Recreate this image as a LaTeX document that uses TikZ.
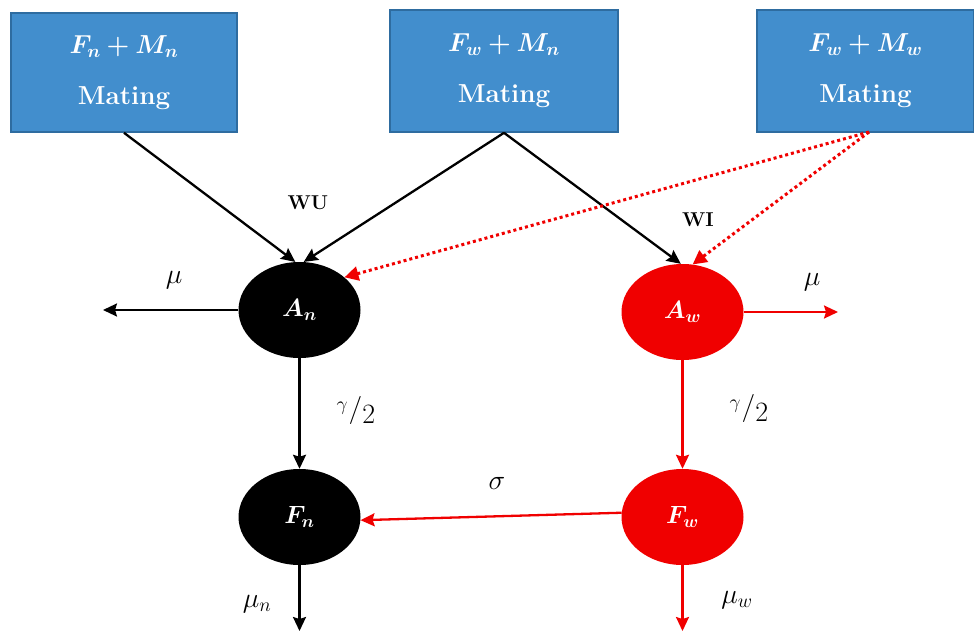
\RequirePackage{fix-cm}
\documentclass[tikz,border=0pt]{standalone}
\usepackage{bm}
\usetikzlibrary{arrows.meta,shapes.geometric}
\definecolor{boxblue}{RGB}{66,142,205}
\definecolor{boxedge}{RGB}{46,108,160}
\definecolor{flowred}{RGB}{240,0,0}
\newcommand{\halfgamma}{\raisebox{7pt}{$\scriptstyle\gamma$}\hspace{1pt}/\raisebox{-6pt}{$2$}}
\begin{document}
\begin{tikzpicture}[x=1pt,y=-1pt,
  matebox/.style={draw=boxedge, line width=1.6pt, fill=boxblue, text=white,
    align=center, inner sep=0pt, font=\fontsize{26}{51}\selectfont\bfseries},
  stage/.style={ellipse, minimum width=122pt, minimum height=96pt, inner sep=0pt,
    text=white, font=\fontsize{25}{28}\selectfont},
  tipk/.style={-{Stealth[length=14pt,width=13pt,inset=2pt]}},
  flow/.style={line width=2.3pt, tipk},
  redflow/.style={line width=2.3pt, draw=flowred, tipk},
  dotflow/.style={line width=3pt, draw=flowred, dash pattern=on 3pt off 3pt,
    -{Triangle[length=14pt,width=14pt]}},
  rate/.style={font=\fontsize{28}{32}\selectfont},
  tag/.style={font=\fontsize{20}{24}\selectfont\bfseries},
]
\useasboundingbox (0,0) rectangle (974,631);

% mating boxes
\node[matebox, minimum width=226pt, minimum height=119pt] (b1) at (124,72.5)
  {$\bm{F_n + M_n}$\\Mating};
\node[matebox, minimum width=228pt, minimum height=122pt] (b2) at (504,71)
  {$\bm{F_w + M_n}$\\Mating};
\node[matebox, minimum width=217pt, minimum height=122pt] (b3) at (865.5,71)
  {$\bm{F_w + M_w}$\\Mating};

% compartments
\node[stage, fill=black] (An) at (299.5,310) {$\bm{A_n}$};
\node[stage, fill=flowred] (Aw) at (682.5,312) {$\bm{A_w}$};
\node[stage, fill=black] (Fn) at (299.5,517) {$\bm{F_n}$};
\node[stage, fill=flowred] (Fw) at (682.5,517) {$\bm{F_w}$};

% free ends of the outflows
\coordinate (outAn) at (103,310);
\coordinate (outAw) at (838,312);
\coordinate (outFn) at (299.5,631);
\coordinate (outFw) at (682.5,631);
\coordinate (src3) at (869,132);

% mating flows
\draw[flow] (b1.south) -- (An.95);
\draw[flow] (b2.south) -- (An.85);
\draw[flow] (b2.south) -- (Aw.92);
\draw[dotflow] (src3) -- (An.36);
\draw[dotflow] (src3) -- (Aw.78);

% transitions
\draw[flow] (An.west) -- (outAn);
\draw[redflow] (Aw.east) -- (outAw);
\draw[flow] (An.south) -- (Fn.north);
\draw[redflow] (Aw.south) -- (Fw.north);
\draw[redflow] (Fw.176) -- (Fn.-3);
\draw[flow] (Fn.south) -- (outFn);
\draw[redflow] (Fw.south) -- (outFw);

% labels
\node[tag] (wu) at (308,203) {WU};
\node[tag] (wi) at (698,220) {WI};
\node[rate] (muA) at (174,280) {$\mu$};
\node[rate] (muW) at (812,282) {$\mu$};
\node[rate] (gA) at (356,410) {$\halfgamma$};
\node[rate] (gW) at (749,408) {$\halfgamma$};
\node[rate] (sg) at (497,483) {$\sigma$};
\node[rate] (mun) at (257,604) {$\mu_n$};
\node[rate] (muw) at (737,600) {$\mu_w$};
\end{tikzpicture}
\end{document}
